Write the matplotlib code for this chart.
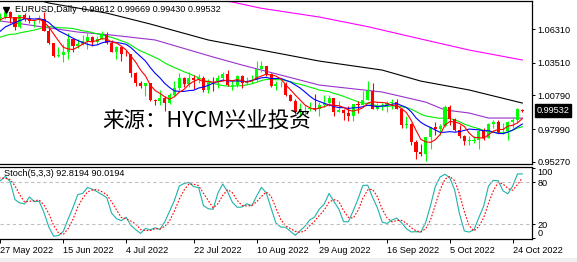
import numpy as np
import pandas as pd
import matplotlib
matplotlib.use('Agg')
import matplotlib.pyplot as plt
import matplotlib.transforms as mtransforms
from matplotlib.patches import Rectangle

plt.rcParams['font.family'] = ['Liberation Sans', 'DejaVu Sans']
plt.rcParams['font.size'] = 6.6

# EURUSD daily bars, 2 May .. 26 Oct 2022.
# the first 19 bars (2 May .. 26 May) sit left of the window, they only feed the indicators
n_before = 19
opens = [
    1.0544, 1.0506, 1.0527, 1.0620, 1.0540, 1.0551, 1.0562, 1.0530, 1.0514, 1.0380,
    1.0412, 1.0437, 1.0552, 1.0464, 1.0587, 1.0563, 1.0690, 1.0735, 1.0678,
    1.0724, 1.0733, 1.0778, 1.0733, 1.0649, 1.0749, 1.0719, 1.0696, 1.0705, 1.0716,
    1.0616, 1.0518, 1.0409, 1.0416, 1.0445, 1.0548, 1.0495, 1.0510, 1.0536, 1.0567,
    1.0522, 1.0554, 1.0584, 1.0518, 1.0443, 1.0484, 1.0425, 1.0423, 1.0265, 1.0182,
    1.0161, 1.0184, 1.0039, 1.0037, 1.0062, 1.0018, 1.0084, 1.0142, 1.0226, 1.0179,
    1.0229, 1.0211, 1.0224, 1.0121, 1.0199, 1.0196, 1.0222, 1.0261, 1.0163, 1.0167,
    1.0245, 1.0180, 1.0196, 1.0211, 1.0298, 1.0322, 1.0257, 1.0160, 1.0171, 1.0179,
    1.0087, 1.0037, 0.9942, 0.9967, 0.9968, 0.9972, 0.9966, 1.0003, 1.0016, 1.0054,
    0.9945, 0.9954, 0.9929, 0.9905, 1.0010, 1.0000, 1.0042, 1.0120, 0.9967, 0.9979,
    0.9998, 1.0014, 1.0025, 0.9970, 0.9837, 0.9838, 0.9690, 0.9606, 0.9593, 0.9737,
    0.9815, 0.9802, 0.9826, 0.9985, 0.9885, 0.9793, 0.9741, 0.9701, 0.9706, 0.9707,
    0.9780, 0.9722, 0.9839, 0.9862, 0.9775, 0.9780, 0.9861, 0.9875, 0.99612,
]
highs = [
    1.0565, 1.0580, 1.0627, 1.0642, 1.0600, 1.0594, 1.0580, 1.0578, 1.0520, 1.0425,
    1.0444, 1.0564, 1.0565, 1.0607, 1.0599, 1.0697, 1.0748, 1.0739, 1.0727,
    1.0765, 1.0787, 1.0786, 1.0737, 1.0753, 1.0764, 1.0749, 1.0711, 1.0749, 1.0774,
    1.0638, 1.0520, 1.0480, 1.0506, 1.0601, 1.0554, 1.0546, 1.0583, 1.0606, 1.0579,
    1.0571, 1.0615, 1.0606, 1.0540, 1.0488, 1.0486, 1.0462, 1.0429, 1.0277, 1.0203,
    1.0187, 1.0186, 1.0049, 1.0122, 1.0072, 1.0097, 1.0200, 1.0269, 1.0237, 1.0279,
    1.0254, 1.0259, 1.0242, 1.0215, 1.0235, 1.0254, 1.0274, 1.0294, 1.0211, 1.0254,
    1.0250, 1.0234, 1.0249, 1.0368, 1.0368, 1.0328, 1.0266, 1.0201, 1.0202, 1.0191,
    1.0091, 1.0048, 1.0018, 0.9999, 1.0028, 1.0090, 1.0027, 1.0079, 1.0080, 1.0056,
    1.0033, 0.9965, 0.9989, 1.0012, 1.0029, 1.0113, 1.0198, 1.0187, 1.0019, 1.0017,
    1.0036, 1.0050, 1.0050, 0.9976, 0.9907, 0.9852, 0.9710, 0.9672, 0.9737, 0.9815,
    0.9854, 0.9840, 0.9999, 0.9999, 0.9893, 0.9834, 0.9751, 0.9742, 0.9742, 0.9809,
    0.9807, 0.9848, 0.9876, 0.9874, 0.9849, 0.9870, 0.9899, 0.9976, 0.99669,
]
lows = [
    1.0493, 1.0492, 1.0505, 1.0493, 1.0483, 1.0500, 1.0515, 1.0502, 1.0350, 1.0354,
    1.0389, 1.0429, 1.0460, 1.0462, 1.0532, 1.0557, 1.0674, 1.0642, 1.0663,
    1.0698, 1.0717, 1.0680, 1.0627, 1.0641, 1.0702, 1.0680, 1.0653, 1.0680, 1.0614,
    1.0506, 1.0399, 1.0398, 1.0358, 1.0380, 1.0444, 1.0475, 1.0500, 1.0469, 1.0492,
    1.0512, 1.0548, 1.0509, 1.0438, 1.0382, 1.0366, 1.0405, 1.0236, 1.0161, 1.0144,
    1.0072, 1.0030, 0.9998, 0.9999, 0.9952, 1.0006, 1.0075, 1.0123, 1.0154, 1.0152,
    1.0131, 1.0180, 1.0111, 1.0096, 1.0113, 1.0145, 1.0197, 1.0160, 1.0122, 1.0146,
    1.0142, 1.0170, 1.0185, 1.0203, 1.0278, 1.0241, 1.0150, 1.0123, 1.0150, 1.0074,
    1.0033, 0.9926, 0.9901, 0.9912, 0.9947, 0.9947, 0.9910, 0.9984, 0.9991, 0.9910,
    0.9942, 0.9876, 0.9863, 0.9864, 0.9929, 0.9996, 1.0042, 0.9966, 0.9955, 0.9955,
    0.9945, 0.9967, 0.9967, 0.9812, 0.9807, 0.9668, 0.9553, 0.9571, 0.9536, 0.9636,
    0.9748, 0.9752, 0.9815, 0.9836, 0.9784, 0.9727, 0.9670, 0.9668, 0.9683, 0.9632,
    0.9708, 0.9722, 0.9808, 0.9764, 0.9758, 0.9705, 0.9806, 0.9846, 0.99430,
]
closes = [
    1.0506, 1.0527, 1.0620, 1.0540, 1.0551, 1.0562, 1.0530, 1.0514, 1.0380, 1.0412,
    1.0437, 1.0552, 1.0464, 1.0587, 1.0563, 1.0690, 1.0735, 1.0678, 1.0724,
    1.0733, 1.0778, 1.0733, 1.0649, 1.0749, 1.0719, 1.0696, 1.0705, 1.0716, 1.0616,
    1.0518, 1.0409, 1.0416, 1.0445, 1.0548, 1.0495, 1.0510, 1.0536, 1.0567, 1.0522,
    1.0554, 1.0584, 1.0518, 1.0443, 1.0484, 1.0425, 1.0423, 1.0265, 1.0182, 1.0161,
    1.0184, 1.0039, 1.0037, 1.0062, 1.0018, 1.0084, 1.0142, 1.0226, 1.0179, 1.0229,
    1.0211, 1.0224, 1.0121, 1.0199, 1.0196, 1.0222, 1.0261, 1.0163, 1.0167, 1.0245,
    1.0180, 1.0196, 1.0211, 1.0298, 1.0322, 1.0257, 1.0160, 1.0171, 1.0179, 1.0087,
    1.0037, 0.9942, 0.9967, 0.9968, 0.9972, 0.9966, 1.0003, 1.0016, 1.0054, 0.9945,
    0.9954, 0.9929, 0.9905, 1.0010, 1.0000, 1.0042, 1.0120, 0.9967, 0.9979, 0.9998,
    1.0014, 1.0025, 0.9970, 0.9837, 0.9838, 0.9690, 0.9606, 0.9593, 0.9737, 0.9815,
    0.9802, 0.9826, 0.9985, 0.9885, 0.9793, 0.9741, 0.9701, 0.9706, 0.9707, 0.9780,
    0.9722, 0.9839, 0.9862, 0.9775, 0.9780, 0.9861, 0.9875, 0.9964, 0.99532,
]

# long moving averages (bar index, price)
ma50_bar = [0, 3, 16, 23, 32, 44, 50, 66, 79, 88, 92, 97, 101, 108]
ma50_val = [1.0700, 1.0684, 1.0608, 1.0583, 1.0542, 1.0400, 1.0333, 1.0166, 1.0108,
            1.0024, 0.9958, 0.9933, 0.9891, 0.9891]
ma100_bar = [7, 10, 22, 31, 43, 66, 79, 87, 97, 108]
ma100_val = [1.0885, 1.0850, 1.0766, 1.0675, 1.0542, 1.0366, 1.0291, 1.0199, 1.0125, 1.0016]
ma200_bar = [45, 48, 54, 66, 76, 87, 97, 108]
ma200_val = [1.0880, 1.0858, 1.0806, 1.0733, 1.0653, 1.0550, 1.0458, 1.0375]

price_ticks = [1.06310, 1.03510, 1.00790, 0.97990, 0.95270]
date_bars = [0, 13, 26, 40, 53, 66, 80, 93, 106]
date_labels = ['27 May 2022', '15 Jun 2022', '4 Jul 2022', '22 Jul 2022', '10 Aug 2022',
               '29 Aug 2022', '16 Sep 2022', '5 Oct 2022', '24 Oct 2022']

o = np.array(opens)
h = np.array(highs)
l = np.array(lows)
c = np.array(closes)
x = np.arange(len(c)) - n_before

cs = pd.Series(c)
ma5 = cs.rolling(5).mean().values
ma10 = cs.rolling(10).mean().values
ma20 = cs.rolling(20).mean().values

# stochastic 5,3,3 (mt4 slowing)
hh = pd.Series(h).rolling(5).max()
ll = pd.Series(l).rolling(5).min()
k_main = 100 * (cs - ll).rolling(3).sum() / (hh - ll).rolling(3).sum()
k_sig = k_main.rolling(3).mean()

W, H = 577, 262
fig = plt.figure(figsize=(W / 100, H / 100), dpi=100)

def px_rect(x0, y0, x1, y1):
    return [x0 / W, 1 - y1 / H, (x1 - x0) / W, (y1 - y0) / H]

ax = fig.add_axes(px_rect(0, 1, 531.5, 163.5))
ax2 = fig.add_axes(px_rect(0, 166.5, 531.5, 239), sharex=ax)

up = c >= o
col = np.where(up, '#00ff00', '#ff0000')
ax.vlines(x, l, h, colors=col, lw=0.8, zorder=3)
flat = np.abs(c - o) < 0.0006
body = np.where(flat, 0.0006, c - o)
ax.bar(x, body, bottom=np.where(flat, o - 0.0003, o), width=0.64,
       color=col, linewidth=0, zorder=4)

ax.plot(ma200_bar, ma200_val, color='#ff00ff', lw=0.8, zorder=2)
ax.plot(ma100_bar, ma100_val, color='black', lw=0.8, zorder=2)
ax.plot(ma50_bar, ma50_val, color='#9932cc', lw=0.8, zorder=2)
ax.plot(x, ma20, color='#00ee00', lw=0.8, zorder=2)
ax.plot(x, ma10, color='#0000ff', lw=0.8, zorder=5)
ax.plot(x, ma5, color='#ff0000', lw=0.8, zorder=5)

ax.set_xlim(-0.1, 109.9)
ax.set_ylim(0.95120, 1.08669)
ax.yaxis.tick_right()
ax.set_yticks(price_ticks)
ax.set_yticklabels(['%.5f' % v for v in price_ticks])
ax.tick_params(axis='y', direction='out', length=2.5, width=0.7, pad=2)
ax.tick_params(axis='x', bottom=False, labelbottom=False)
ax.spines['left'].set_visible(False)
for s in ['top', 'bottom', 'right']:
    ax.spines[s].set_linewidth(0.9)

# current price box
tr = mtransforms.blended_transform_factory(ax.transAxes, ax.transData)
ax.text(1.0 + 5 / 531.5, closes[-1], '%.5f' % closes[-1], transform=tr, color='white',
        va='center', ha='left',
        bbox=dict(facecolor='black', edgecolor='black', pad=1.3))

# title
fig.text(15 / W, 1 - 10 / H, 'EURUSD,Daily  0.99612 0.99669 0.99430 0.99532',
         va='center', ha='left')
fig.lines.append(plt.Line2D([5.5 / W], [1 - 10 / H], marker='v', color='black',
                            markersize=4, transform=fig.transFigure))

# watermark
fig.text(206.5 / W, 1 - 122 / H, '来源：HYCM兴业投资', family=['Noto Sans CJK SC'],
         fontsize=15.5, color='black', ha='center', va='center')

# stochastic panel
ax2.plot(x, k_main, color='#20b2aa', lw=0.8)
ax2.plot(x, k_sig, color='#ff0000', lw=0.8, linestyle=(0, (1.5, 1.5)))
for lev in [20, 80]:
    ax2.axhline(lev, color='#c0c0c0', lw=0.8, linestyle=(0, (3, 2.5)))
ax2.set_ylim(-1.0, 102.6)
ax2.yaxis.tick_right()
ax2.set_yticks([0, 20, 80, 100])
ax2.set_yticklabels(['0', '20', '80', '100'])
ylabs = ax2.get_yticklabels()
ylabs[0].set_va('bottom')
ylabs[3].set_va('top')
ax2.tick_params(axis='y', direction='out', length=2.5, width=0.7, pad=2)
ax2.set_xticks(date_bars)
ax2.set_xticklabels(date_labels)
for lab in ax2.get_xticklabels():
    lab.set_ha('left')
ax2.tick_params(axis='x', direction='out', length=3, width=0.7, pad=2)
ax2.spines['left'].set_visible(False)
for s in ['top', 'bottom', 'right']:
    ax2.spines[s].set_linewidth(0.9)
ax2.text(4 / 531.5, 0.9, 'Stoch(5,3,3) 92.8194 90.0194', transform=ax2.transAxes,
         va='center', ha='left')

fig.patches.append(Rectangle((0, 0), 1, 4.5 / H, transform=fig.transFigure,
                             facecolor='#f0f0f0', edgecolor='none'))

fig.savefig('out.png', dpi=100, facecolor='white')
